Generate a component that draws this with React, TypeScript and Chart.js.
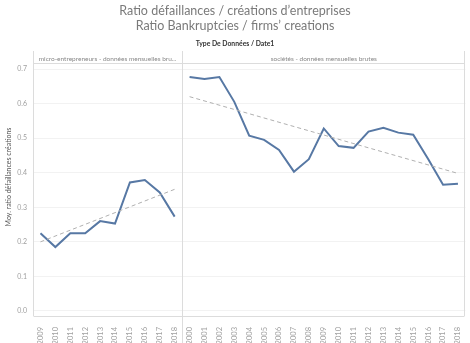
import React, { useEffect, useRef } from 'react';
import { Chart, registerables } from 'chart.js';

Chart.register(...registerables);

const titleLines = ['Ratio défaillances / créations d’entreprises', 'Ratio Bankruptcies / firms’ creations'];
const subtitle = 'Type De Données / Date1';
const yAxisTitle = 'Moy. ratio défaillances créations';
const panelHeaders = ['micro-entrepreneurs - données mensuelles bru...', 'sociétés - données mensuelles brutes'];

const microYears = ['2009', '2010', '2011', '2012', '2013', '2014', '2015', '2016', '2017', '2018'];
const microRatio = [0.225, 0.185, 0.225, 0.225, 0.26, 0.253, 0.372, 0.379, 0.343, 0.273];
const microTrend = [0.2, 0.352];

const societeYears = ['2000', '2001', '2002', '2003', '2004', '2005', '2006', '2007', '2008', '2009', '2010', '2011', '2012', '2013', '2014', '2015', '2016', '2017', '2018'];
const societeRatio = [0.677, 0.671, 0.677, 0.605, 0.507, 0.495, 0.466, 0.403, 0.439, 0.528, 0.477, 0.472, 0.519, 0.53, 0.516, 0.51, 0.44, 0.365, 0.368];
const societeTrend = [0.62, 0.398];

const yTicks = [0, 0.1, 0.2, 0.3, 0.4, 0.5, 0.6, 0.7];

const LINE = '#5778a4';
const TREND = '#b0b0b0';
const FONT = 'Lato, "Open Sans", sans-serif';

export default function App() {
  const ref = useRef<HTMLCanvasElement>(null);
  useEffect(() => {
    const nMicro = microYears.length;
    const nTotal = microYears.length + societeYears.length;
    const allYears = [...microYears, ...societeYears];
    const microPts = microRatio.map((v, i) => ({ x: i + 0.5, y: v }));
    const socPts = societeRatio.map((v, i) => ({ x: nMicro + i + 0.5, y: v }));
    const microTrendPts = [
      { x: 0.5, y: microTrend[0] },
      { x: nMicro - 0.5, y: microTrend[1] },
    ];
    const socTrendPts = [
      { x: nMicro + 0.5, y: societeTrend[0] },
      { x: nTotal - 0.5, y: societeTrend[1] },
    ];

    const decor = {
      id: 'decor',
      beforeDatasetsDraw(chart: any) {
        const { ctx, chartArea, scales } = chart;
        const xs = scales.x;
        ctx.save();
        ctx.strokeStyle = '#dcdcdc';
        ctx.lineWidth = 1;
        const xl = Math.round(xs.getPixelForValue(0)) + 0.5;
        const xm = Math.round(xs.getPixelForValue(nMicro)) + 0.5;
        const xr = Math.round(xs.getPixelForValue(nTotal)) - 0.5;
        const headTop = 51;
        ctx.beginPath();
        ctx.moveTo(xl, headTop); ctx.lineTo(xl, chartArea.bottom);
        ctx.moveTo(xm, headTop); ctx.lineTo(xm, 343);
        ctx.moveTo(xr, headTop); ctx.lineTo(xr, chartArea.bottom);
        ctx.moveTo(xl, chartArea.top - 0.5); ctx.lineTo(xr, chartArea.top - 0.5);
        ctx.moveTo(xl, chartArea.bottom + 0.5); ctx.lineTo(xr, chartArea.bottom + 0.5);
        ctx.stroke();
        ctx.restore();
      },
      afterDraw(chart: any) {
        const { ctx, scales } = chart;
        const xs = scales.x;
        ctx.save();
        ctx.textAlign = 'center';
        ctx.textBaseline = 'alphabetic';
        ctx.fillStyle = '#7a7a7a';
        ctx.font = `12.5px ${FONT}`;
        ctx.fillText(titleLines[0], 235, 15);
        ctx.fillText(titleLines[1], 235, 30);
        ctx.fillStyle = '#333';
        ctx.font = `bold 6.8px ${FONT}`;
        ctx.fillText(subtitle, 235, 45.5);
        ctx.fillStyle = '#888';
        ctx.font = `6.5px ${FONT}`;
        const xl = xs.getPixelForValue(0);
        const xm = xs.getPixelForValue(nMicro);
        const xr = xs.getPixelForValue(nTotal);
        ctx.save();
        ctx.beginPath();
        ctx.rect(xl, 50, xm - xl, 14);
        ctx.clip();
        ctx.fillText(panelHeaders[0], (xl + xm) / 2, 61);
        ctx.restore();
        ctx.fillText(panelHeaders[1], (xm + xr) / 2, 61);
        ctx.translate(8.5, 177);
        ctx.rotate(-Math.PI / 2);
        ctx.fillStyle = '#555';
        ctx.font = `7px ${FONT}`;
        ctx.textBaseline = 'middle';
        ctx.fillText(yAxisTitle, 0, 0);
        ctx.restore();
      },
    };

    const chart = new Chart(ref.current!, {
      type: 'line',
      data: {
        datasets: [
          { data: microTrendPts, borderColor: TREND, borderWidth: 1, borderDash: [4, 3], pointRadius: 0 },
          { data: socTrendPts, borderColor: TREND, borderWidth: 1, borderDash: [4, 3], pointRadius: 0 },
          { data: microPts, borderColor: LINE, borderWidth: 2, pointRadius: 0, tension: 0 },
          { data: socPts, borderColor: LINE, borderWidth: 2, pointRadius: 0, tension: 0 },
        ],
      },
      options: {
        responsive: false,
        animation: false,
        layout: { padding: { top: 64, right: 2, left: 0, bottom: 0 } },
        plugins: { legend: { display: false }, tooltip: { enabled: false }, title: { display: false } },
        scales: {
          x: {
            type: 'linear',
            min: 0,
            max: nTotal,
            grid: { display: false },
            border: { display: false },
            afterBuildTicks: (s: any) => {
              s.ticks = allYears.map((_, i) => ({ value: i + 0.5 }));
            },
            afterFit: (s: any) => { s.height = 27; },
            ticks: {
              autoSkip: false,
              minRotation: 90,
              maxRotation: 90,
              padding: 3,
              color: '#a0a0a0',
              font: { size: 7.5, family: FONT },
              callback: (v: any) => allYears[Math.floor(Number(v))],
            },
          },
          y: {
            min: -0.0145,
            max: 0.7145,
            grid: { color: '#f2f2f2', drawTicks: false },
            border: { display: false },
            afterBuildTicks: (s: any) => {
              s.ticks = yTicks.map((v) => ({ value: v }));
            },
            afterFit: (s: any) => { s.width = 33; },
            ticks: {
              padding: 6,
              color: '#a0a0a0',
              font: { size: 7, family: FONT },
              callback: (v: any) => Number(v).toFixed(1),
            },
          },
        },
      },
      plugins: [decor],
    });
    return () => chart.destroy();
  }, []);
  return (
    <div style={{ position: 'absolute', left: 0, top: 0, width: 470, height: 343, background: '#fff' }}>
      <canvas ref={ref} width={470} height={343} />
    </div>
  );
}
